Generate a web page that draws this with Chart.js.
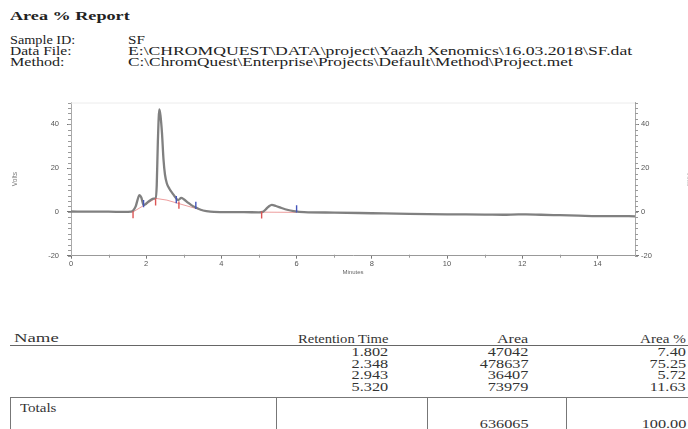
<!DOCTYPE html>
<html><head><meta charset="utf-8">
<script src="https://cdn.jsdelivr.net/npm/chart.js@4.4.1/dist/chart.umd.min.js"></script>
<style>
html,body{margin:0;padding:0;background:#fff;}
body{width:688px;height:429px;position:relative;overflow:hidden;font-family:"Liberation Serif","Times New Roman",serif;color:#222;}
.t{position:absolute;white-space:nowrap;font-size:12.5px;line-height:1;}
.b{font-weight:bold;}
#wrap{position:absolute;left:0;top:90px;width:688px;height:190px;}
.hl{position:absolute;background:#555;}
</style></head><body>
<div id="wrap"><canvas id="c"></canvas></div>
<div id="texts"></div>
<script>
// ---------- data ----------
const traceX = [0,0.5,1.0,1.4,1.6,1.66,1.72,1.77,1.82,1.87,1.93,1.98,2.05,2.12,2.2,2.25,2.28,2.31,2.35,2.38,2.42,2.46,2.5,2.55,2.62,2.7,2.78,2.85,2.93,3.0,3.1,3.2,3.32,3.45,3.6,3.8,4.2,4.6,5.0,5.1,5.18,5.26,5.34,5.45,5.6,5.75,5.92,6.2,7.0,8.0,9.0,10.0,11.0,11.5,11.9,12.1,12.5,13.0,13.5,14.0,14.5,15.0];
const traceY = [0.2,0.1,0.1,0.0,0.1,0.8,2.5,5.5,7.7,6.6,3.1,3.5,4.6,5.5,6.1,6.3,12,32,46.8,44,36,24,17,13,10.5,8.5,6.6,5.4,6.4,5.8,4.4,3.1,2.0,1.0,0.4,0.0,-0.1,-0.1,-0.2,0.0,1.2,2.5,3.2,2.7,1.8,1.0,0.4,-0.1,-0.3,-0.6,-0.9,-1.1,-1.2,-1.3,-1.1,-1.1,-1.3,-1.5,-1.7,-1.9,-1.9,-2.0];
const baseX = [1.65,2.25,2.55,2.87,3.32,3.6,null,5.07,6.0];
const baseY = [0.0,6.2,5.4,3.8,1.6,0.3,null,-0.1,-0.2];
const startMarkX = [1.65,2.25,2.87,5.07];
const startMarkY = [-1.3,4.6,3.1,-1.4];
const endMarkX = [1.93,2.8,3.32,6.0];
const endMarkY = [3.8,5.6,3.0,1.4];
const xTicks = [0,2,4,6,8,10,12,14];
const yTicks = [-20,0,20,40];

const sampleId = "SF";
const dataFile = "E:\\CHROMQUEST\\DATA\\project\\Yaazh Xenomics\\16.03.2018\\SF.dat";
const methodFile = "C:\\ChromQuest\\Enterprise\\Projects\\Default\\Method\\Project.met";
const retTimes = ["1.802","2.348","2.943","5.320"];
const areas = ["47042","478637","36407","73979"];
const areaPct = ["7.40","75.25","5.72","11.63"];
const totalArea = "636065";
const totalPct = "100.00";

// ---------- text ----------
const T = document.getElementById('texts');
function txt(s, opt){
  const e = document.createElement('div');
  e.className = 't' + (opt.bold ? ' b' : '');
  e.textContent = s;
  if (opt.size) e.style.fontSize = opt.size + 'px';
  const fs = opt.size || 12.5;
  e.style.top = (opt.cy - fs/2) + 'px';
  if (opt.right !== undefined){ e.style.right = (688 - opt.right) + 'px'; e.style.transformOrigin = 'right center'; }
  else { e.style.left = opt.left + 'px'; e.style.transformOrigin = 'left center'; }
  if (opt.color) e.style.color = opt.color;
  T.appendChild(e);
  const sx = opt.w ? opt.w / e.offsetWidth : (opt.sx || 1.22);
  e.style.transform = 'scaleX(' + sx + ')';
}
txt("Area % Report", {left:10, cy:17, w:120, bold:true, size:11.5});
txt("Sample ID:", {left:10, cy:40, w:65});
txt(sampleId, {left:128, cy:40, w:17});
txt("Data File:", {left:10, cy:51, w:62});
txt(dataFile, {left:128, cy:51, w:504});
txt("Method:", {left:10, cy:62, w:54});
txt(methodFile, {left:128, cy:62, w:445});

const tc = '#333';
txt("Name", {left:14, cy:339, w:44, color:tc, size:11.5});
txt("Retention Time", {right:388, cy:339, w:90, color:tc});
txt("Area", {right:528, cy:339, w:31, color:tc});
txt("Area %", {right:686, cy:339, w:46, color:tc});
const rowY = [352.5,364,375.5,387];
for (let i=0;i<retTimes.length;i++){
  txt(retTimes[i], {right:388, cy:rowY[i], sx:1.3, color:tc});
  txt(areas[i], {right:528, cy:rowY[i], sx:1.3, color:tc});
  txt(areaPct[i], {right:686, cy:rowY[i], sx:1.3, color:tc});
}
txt("Totals", {left:20, cy:408, sx:1.2, color:tc});
txt(totalArea, {right:528, cy:424, sx:1.3, color:tc});
txt(totalPct, {right:686, cy:424, sx:1.3, color:tc});
function line(l,t,w,h,c){const d=document.createElement('div');d.className='hl';d.style.left=l+'px';d.style.top=t+'px';d.style.width=w+'px';d.style.height=h+'px';if(c)d.style.background=c;T.appendChild(d);}
line(10,345,678,1,'#666');
line(10,397,678,1,'#777');
line(10,397,1,32,'#777');
line(276,397,1,32,'#777');
line(427,397,1,32,'#777');
line(566,397,1,32,'#777');

// ---------- chart ----------
const pts = (xs, ys) => xs.map((x,i) => ({x: x, y: ys[i]}));
const minorPlugin = {
  id: 'minor',
  afterDraw(chart){
    const ctx = chart.ctx, ca = chart.chartArea;
    const xs = chart.scales.x, yl = chart.scales.y;
    ctx.save();
    ctx.strokeStyle = '#ececec'; ctx.lineWidth = 1;
    ctx.beginPath(); ctx.moveTo(ca.left, ca.top+0.5); ctx.lineTo(ca.right, ca.top+0.5); ctx.stroke();
    ctx.strokeStyle = '#9a9a9a';
    for (let v = yl.min; v <= yl.max + 1e-9; v += 2.5){
      const p = Math.round(yl.getPixelForValue(v)) + 0.5;
      ctx.beginPath(); ctx.moveTo(ca.left-3, p); ctx.lineTo(ca.left, p); ctx.stroke();
      ctx.beginPath(); ctx.moveTo(ca.right, p); ctx.lineTo(ca.right+3, p); ctx.stroke();
    }
    for (let v = xs.min + 1; v < xs.max; v += 2){
      const p = Math.round(xs.getPixelForValue(v)) + 0.5;
      ctx.beginPath(); ctx.moveTo(p, ca.bottom-1); ctx.lineTo(p, ca.bottom+2); ctx.stroke();
    }
    ctx.restore();
  }
};
const yScale = (pos) => ({
  type: 'linear', position: pos, min: -20, max: 50,
  afterBuildTicks: s => { s.ticks = yTicks.map(v => ({value: v})); },
  ticks: {font: {family: 'Liberation Sans, Arial', size: 7.5}, color: '#555', padding: pos === 'left' ? 8 : 2},
  grid: {drawOnChartArea: false, tickLength: 4, color: '#777', tickWidth: 1},
  border: {color: '#aaa', dash: [1.5, 4], width: 1},
  title: {display: true, text: 'Volts', font: {family: 'Liberation Sans, Arial', size: 6.5}, color: pos === 'left' ? '#777' : '#bbb',
          padding: pos === 'left' ? {top: 11, bottom: 0} : {top: -5, bottom: 0}},
  afterFit: s => { s.width = pos === 'left' ? 71 : 53; }
});
new Chart(document.getElementById('c'), {
  type: 'line',
  data: {datasets: [
    {label: 'trace', data: pts(traceX, traceY), borderColor: '#808080', borderWidth: 2.3, pointRadius: 0, cubicInterpolationMode: 'monotone', order: 2},
    {label: 'baseline', data: pts(baseX, baseY), borderColor: 'rgba(225,90,90,0.75)', borderWidth: 0.8, pointRadius: 0, spanGaps: false, order: 3},
    {label: 'start', data: pts(startMarkX, startMarkY), showLine: false, pointStyle: 'line', rotation: 90, pointRadius: 3.6, borderColor: '#dd5555', borderWidth: 1.4, order: 1},
    {label: 'end', data: pts(endMarkX, endMarkY), showLine: false, pointStyle: 'line', rotation: 90, pointRadius: 3.6, borderColor: '#4455bb', borderWidth: 1.4, order: 1}
  ]},
  options: {
    responsive: true, maintainAspectRatio: false, animation: false, parsing: true,
    layout: {padding: {top: 12.5, left: 0, right: 0, bottom: 0}},
    plugins: {legend: {display: false}, tooltip: {enabled: false}},
    scales: {
      x: {
        type: 'linear', min: 0, max: 15,
        afterBuildTicks: s => { s.ticks = xTicks.map(v => ({value: v})); },
        ticks: {font: {family: 'Liberation Sans, Arial', size: 7.5}, color: '#555', padding: 1, maxRotation: 0},
        grid: {drawOnChartArea: false, tickLength: 3, color: '#777'},
        border: {color: '#999', dash: [1.5, 4.75], width: 1},
        title: {display: true, text: 'Minutes', font: {family: 'Liberation Sans, Arial', size: 6}, color: '#666', padding: {top: 0, bottom: 4}},
        afterFit: s => { s.height = 24.3; }
      },
      y: yScale('left'),
      y2: yScale('right')
    }
  },
  plugins: [minorPlugin]
});
</script>
</body></html>
